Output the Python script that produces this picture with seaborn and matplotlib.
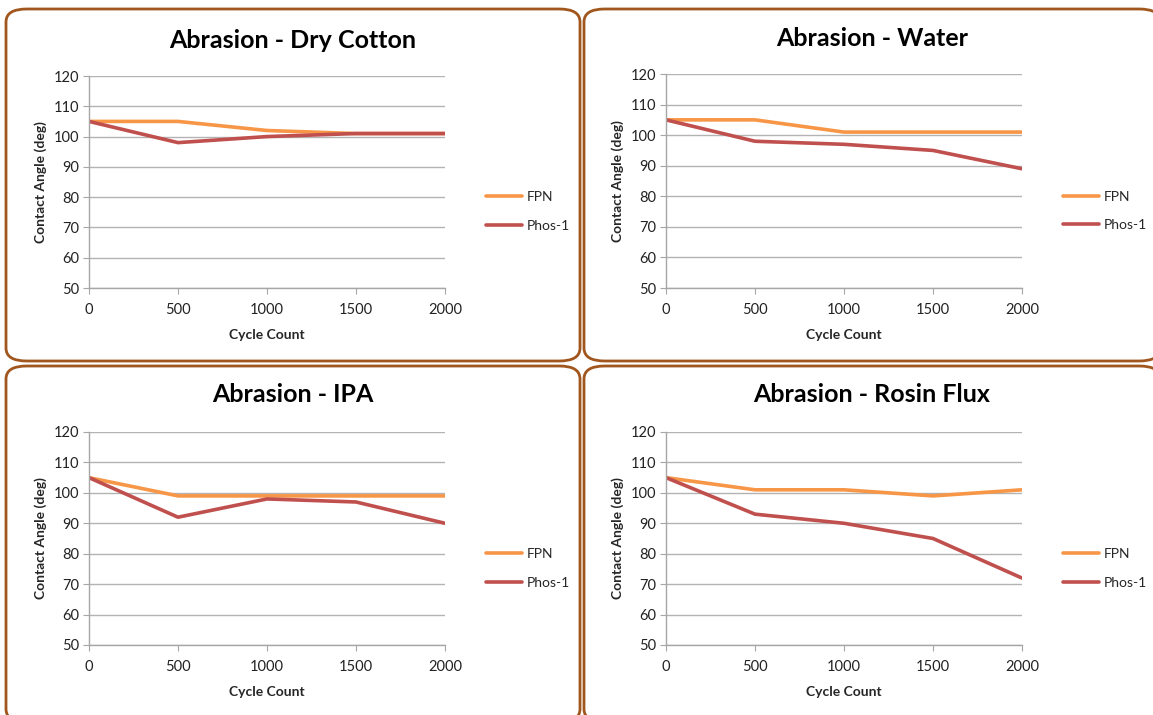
import numpy as np
import pandas as pd
import matplotlib
matplotlib.use("Agg")
import matplotlib.pyplot as plt
from matplotlib.patches import FancyBboxPatch
import seaborn as sns

# Data
cycles = [0, 500, 1000, 1500, 2000]
titles = ["Abrasion - Dry Cotton", "Abrasion - Water", "Abrasion - IPA", "Abrasion - Rosin Flux"]
fpn_dry = [105, 105, 102, 101, 101]
phos_dry = [105, 98, 100, 101, 101]
fpn_water = [105, 105, 101, 101, 101]
phos_water = [105, 98, 97, 95, 89]
fpn_ipa = [105, 99, 99, 99, 99]
phos_ipa = [105, 92, 98, 97, 90]
fpn_rosin = [105, 101, 101, 99, 101]
phos_rosin = [105, 93, 90, 85, 72]
series_names = ["FPN", "Phos-1"]

panels = [
    (fpn_dry, phos_dry),
    (fpn_water, phos_water),
    (fpn_ipa, phos_ipa),
    (fpn_rosin, phos_rosin),
]

sns.set_style("white")
plt.rcParams['font.family'] = ['Lato', 'DejaVu Sans']

W, H = 1153, 715
fig = plt.figure(figsize=(W / 100, H / 100), dpi=100)


def rect(x0, y0, x1, y1):
    return [x0 / W, 1 - y1 / H, (x1 - x0) / W, (y1 - y0) / H]


# panel boxes (pixel coords) and axes areas
boxes = [(6, 9, 580, 361), (584, 9, 1160, 361), (6, 366, 580, 722), (584, 366, 1160, 722)]
axes_px = [(89, 76, 445, 288), (666, 74, 1022, 288), (89, 432, 445, 645), (666, 432, 1022, 645)]
title_y = [40, 38, 394, 394]

palette = {"FPN": "#F79646", "Phos-1": "#C0504D"}

for i, (title, (fpn, phos)) in enumerate(zip(titles, panels)):
    bx0, by0, bx1, by1 = boxes[i]
    box = FancyBboxPatch((bx0 / W, 1 - by1 / H), (bx1 - bx0) / W, (by1 - by0) / H,
                         boxstyle="round,pad=0,rounding_size=0.018",
                         transform=fig.transFigure, facecolor="white",
                         edgecolor="#A0561C", linewidth=2, zorder=-1)
    fig.patches.append(box)

    df = pd.DataFrame({
        "Cycle Count": cycles * 2,
        "Contact Angle": fpn + phos,
        "Series": [series_names[0]] * len(cycles) + [series_names[1]] * len(cycles),
    })

    ax = fig.add_axes(rect(*axes_px[i]))
    ax.set_facecolor("none")
    sns.lineplot(data=df, x="Cycle Count", y="Contact Angle", hue="Series",
                 palette=palette, linewidth=2.6, ax=ax)

    ax.set_xlim(0, 2000)
    ax.set_ylim(50, 120)
    ax.set_xticks(cycles)
    ax.set_yticks(range(50, 121, 10))
    ax.grid(axis="y", color="#B3B3B3", linewidth=1)
    ax.set_axisbelow(True)
    for s in ["top", "right"]:
        ax.spines[s].set_visible(False)
    for s in ["left", "bottom"]:
        ax.spines[s].set_color("#A6A6A6")
        ax.spines[s].set_linewidth(1)
    ax.tick_params(axis="both", length=4, color="#A6A6A6", labelsize=10.5,
                   labelcolor="#222222", direction="out", left=True, bottom=True)
    ax.tick_params(axis="x", pad=6.5)
    ax.tick_params(axis="y", pad=3)
    ax.set_xlabel("Cycle Count", fontsize=10, fontweight="bold", labelpad=9)
    ax.set_ylabel("Contact Angle (deg)", fontsize=10, fontweight="bold", labelpad=5)

    cx = (bx0 + bx1) / 2
    fig.text(cx / W, 1 - title_y[i] / H, title, ha="center", va="center",
             fontsize=18, fontweight="bold", color="black")

    ax.legend(title=None, frameon=False, loc="center left",
              bbox_to_anchor=(1.08, 0.36), fontsize=10, handlelength=2.6,
              labelspacing=1.2, handletextpad=0.3)

fig.savefig("out.png", dpi=100)
